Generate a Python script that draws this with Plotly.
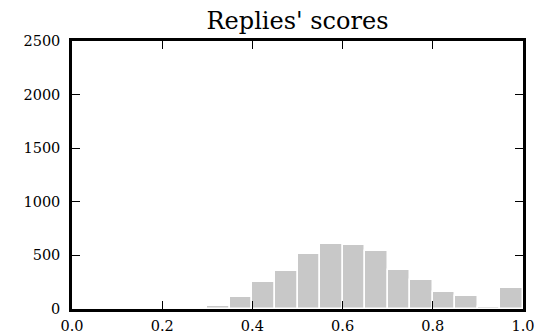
import plotly.graph_objects as go

# Histogram of reply scores: 20 equal-width bins on [0, 1]
bin_left = [i * 0.05 for i in range(20)]
counts = [0, 0, 0, 0, 0, 0, 28, 112, 252, 354, 510, 606, 600, 538, 364, 270, 156, 124, 15, 199]
bin_width = 0.05
x_ticks = [0.0, 0.2, 0.4, 0.6, 0.8, 1.0]
y_ticks = [0, 500, 1000, 1500, 2000, 2500]

centers = [b + bin_width / 2 for b in bin_left]

fig = go.Figure(
    go.Bar(
        x=centers,
        y=counts,
        width=[bin_width] * len(counts),
        marker=dict(color="#c8c8c8", line=dict(color="white", width=1.5)),
    )
)

font = "DejaVu Serif"
axis_common = dict(
    showline=True,
    linecolor="black",
    linewidth=2.5,
    mirror="ticks",
    ticks="inside",
    ticklen=8,
    tickwidth=1,
    tickcolor="black",
    showgrid=False,
    zeroline=False,
    automargin=False,
    tickfont=dict(family=font, size=14.5, color="black"),
)

fig.update_layout(
    width=544,
    height=335,
    margin=dict(l=72, r=21, t=41, b=26),
    paper_bgcolor="white",
    plot_bgcolor="white",
    bargap=0,
    showlegend=False,
    title=dict(
        text="Replies' scores",
        font=dict(family=font, size=24, color="black"),
        x=(72 + 523) / 2 / 544,
        xanchor="center",
        y=1 - 21 / 335,
        yanchor="middle",
    ),
    xaxis=dict(
        range=[0, 1],
        tickvals=x_ticks,
        ticktext=[f"{v:.1f}" for v in x_ticks],
        ticklabelstandoff=2,
        **axis_common,
    ),
    yaxis=dict(
        range=[0, 2500],
        tickvals=y_ticks,
        ticktext=[str(v) for v in y_ticks],
        ticklabelstandoff=6,
        **axis_common,
    ),
)

fig.write_html("out.html")
